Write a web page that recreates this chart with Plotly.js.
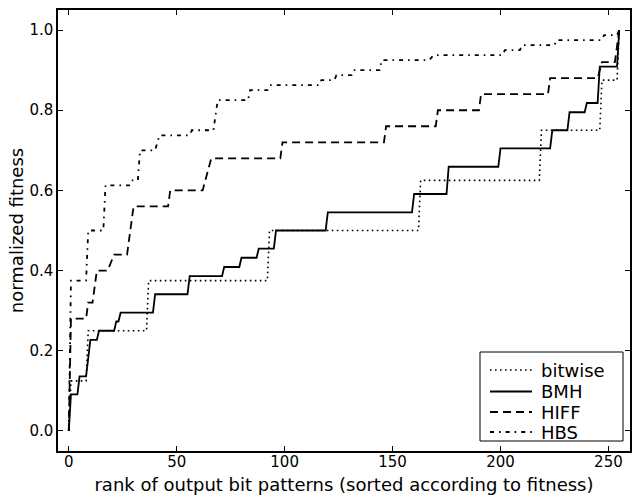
<!DOCTYPE html>
<html>
<head>
<meta charset="utf-8">
<script src="https://cdn.plot.ly/plotly-3.0.1.min.js"></script>
<style>html,body{margin:0;padding:0;background:#fff;}#chart{width:635px;height:498px;}</style>
</head>
<body>
<div id="chart"></div>
<script>
// Step corners (rank, normalized fitness)
const bitwiseX = [0,1,8,9,36,37,92,93,162,163,218,219,246,247,254,255];
const bitwiseY = [0,0.125,0.125,0.25,0.25,0.375,0.375,0.5,0.5,0.625,0.625,0.75,0.75,0.875,0.875,1.0];

const bmhX = [0,1,4,5,8,10,13,14,21,22,23,24,39,40,55,56,71,72,79,80,87,88,95,96,119,120,159,160,175,176,199,200,223,224,231,232,239,240,245,246,254,255];
const bmhY = [0,0.091,0.091,0.136,0.136,0.227,0.227,0.25,0.25,0.273,0.273,0.295,0.295,0.341,0.341,0.386,0.386,0.409,0.409,0.432,0.432,0.455,0.455,0.5,0.5,0.545,0.545,0.591,0.591,0.659,0.659,0.705,0.705,0.75,0.75,0.795,0.795,0.818,0.818,0.909,0.909,1.0];

const hiffX = [0,1,8,9,11,12,13,18,21,27,28,29,30,46,47,62,64,66,98,99,146,147,170,171,190,191,222,223,245,247,253,255];
const hiffY = [0,0.28,0.28,0.32,0.32,0.36,0.40,0.40,0.44,0.44,0.48,0.52,0.56,0.56,0.60,0.60,0.64,0.68,0.68,0.72,0.72,0.76,0.76,0.80,0.80,0.84,0.84,0.88,0.88,0.92,0.92,1.0];

const hbsX = [0,1,8,9,16,17,28,29,32,33,40,42,56,57,67,69,83,84,92,93,116,117,123,124,131,132,144,145,167,169,201,202,209,210,225,226,247,248,254,255];
const hbsY = [0,0.375,0.375,0.5,0.5,0.6125,0.6125,0.625,0.625,0.7,0.7,0.7375,0.7375,0.75,0.75,0.825,0.825,0.85,0.85,0.8625,0.8625,0.875,0.875,0.8875,0.8875,0.9,0.9,0.925,0.925,0.9375,0.9375,0.95,0.95,0.9625,0.9625,0.975,0.975,0.9875,0.9875,1.0];

const seriesNames = ['bitwise','BMH','HIFF','HBS'];
const xTicks = [0,50,100,150,200,250];
const yTicks = [0.0,0.2,0.4,0.6,0.8,1.0];
const yTickText = ['0.0','0.2','0.4','0.6','0.8','1.0'];

const FONT = 'DejaVu Sans, sans-serif';
const styles = [
  {color:'#000', width:1.6, dash:'1.6px,3.4px'},
  {color:'#000', width:1.8, dash:'solid'},
  {color:'#000', width:1.8, dash:'8px,5px'},
  {color:'#000', width:1.8, dash:'4px,5px,1.6px,5px'}
];
const seriesX = [bitwiseX, bmhX, hiffX, hbsX];
const seriesY = [bitwiseY, bmhY, hiffY, hbsY];

const traces = seriesNames.map((n, i) => ({
  type: 'scatter', mode: 'lines', name: n, x: seriesX[i], y: seriesY[i], line: styles[i]
}));

// plot area geometry (px) used to place the legend box in paper coordinates
const W = 635, H = 498, ML = 58, MR = 5, MT = 10, MB = 47;
const PW = W - ML - MR, PH = H - MT - MB;
const px = v => (v - ML) / PW;
const py = v => (H - MB - v) / PH;

const legendRowsY = [370, 391.5, 412, 432];
const shapes = [
  {type:'rect', xref:'paper', yref:'paper', x0: px(480), x1: px(623), y0: py(441), y1: py(352),
   line:{color:'#000', width:1}, fillcolor:'#fff', layer:'above'}
];
const annotations = [];
seriesNames.forEach((n, i) => {
  shapes.push({type:'line', xref:'paper', yref:'paper', x0: px(490), x1: px(532),
    y0: py(legendRowsY[i]), y1: py(legendRowsY[i]), line: styles[i], layer:'above'});
  annotations.push({xref:'paper', yref:'paper', x: px(539), y: py(legendRowsY[i]),
    xanchor:'left', yanchor:'middle', showarrow:false, text: n,
    font:{family: FONT, size: 18, color:'#000'}});
});

const axisCommon = {
  showgrid: false, zeroline: false, showline: true, linecolor: '#000', linewidth: 1.6,
  mirror: 'ticks', ticks: 'inside', ticklen: 5, tickwidth: 1, tickcolor: '#000',
  tickfont: {family: FONT, size: 15, color: '#000'}
};

const layout = {
  width: W, height: H,
  margin: {l: ML, r: MR, t: MT, b: MB},
  paper_bgcolor: '#fff', plot_bgcolor: '#fff',
  font: {family: FONT, color: '#000'},
  showlegend: false,
  xaxis: Object.assign({}, axisCommon, {
    range: [-5, 260], tickvals: xTicks, ticktext: xTicks.map(String), ticklabelstandoff: -4,
    title: {text: 'rank of output bit patterns (sorted according to fitness)', font: {family: FONT, size: 18, color: '#000'}, standoff: 9}
  }),
  yaxis: Object.assign({}, axisCommon, {
    range: [-0.05, 1.05], tickvals: yTicks, ticktext: yTickText,
    title: {text: 'normalized fitness', font: {family: FONT, size: 18, color: '#000'}, standoff: 1}
  }),
  shapes: shapes,
  annotations: annotations
};

Plotly.newPlot('chart', traces, layout, {displayModeBar: false, staticPlot: true});
</script>
</body>
</html>
